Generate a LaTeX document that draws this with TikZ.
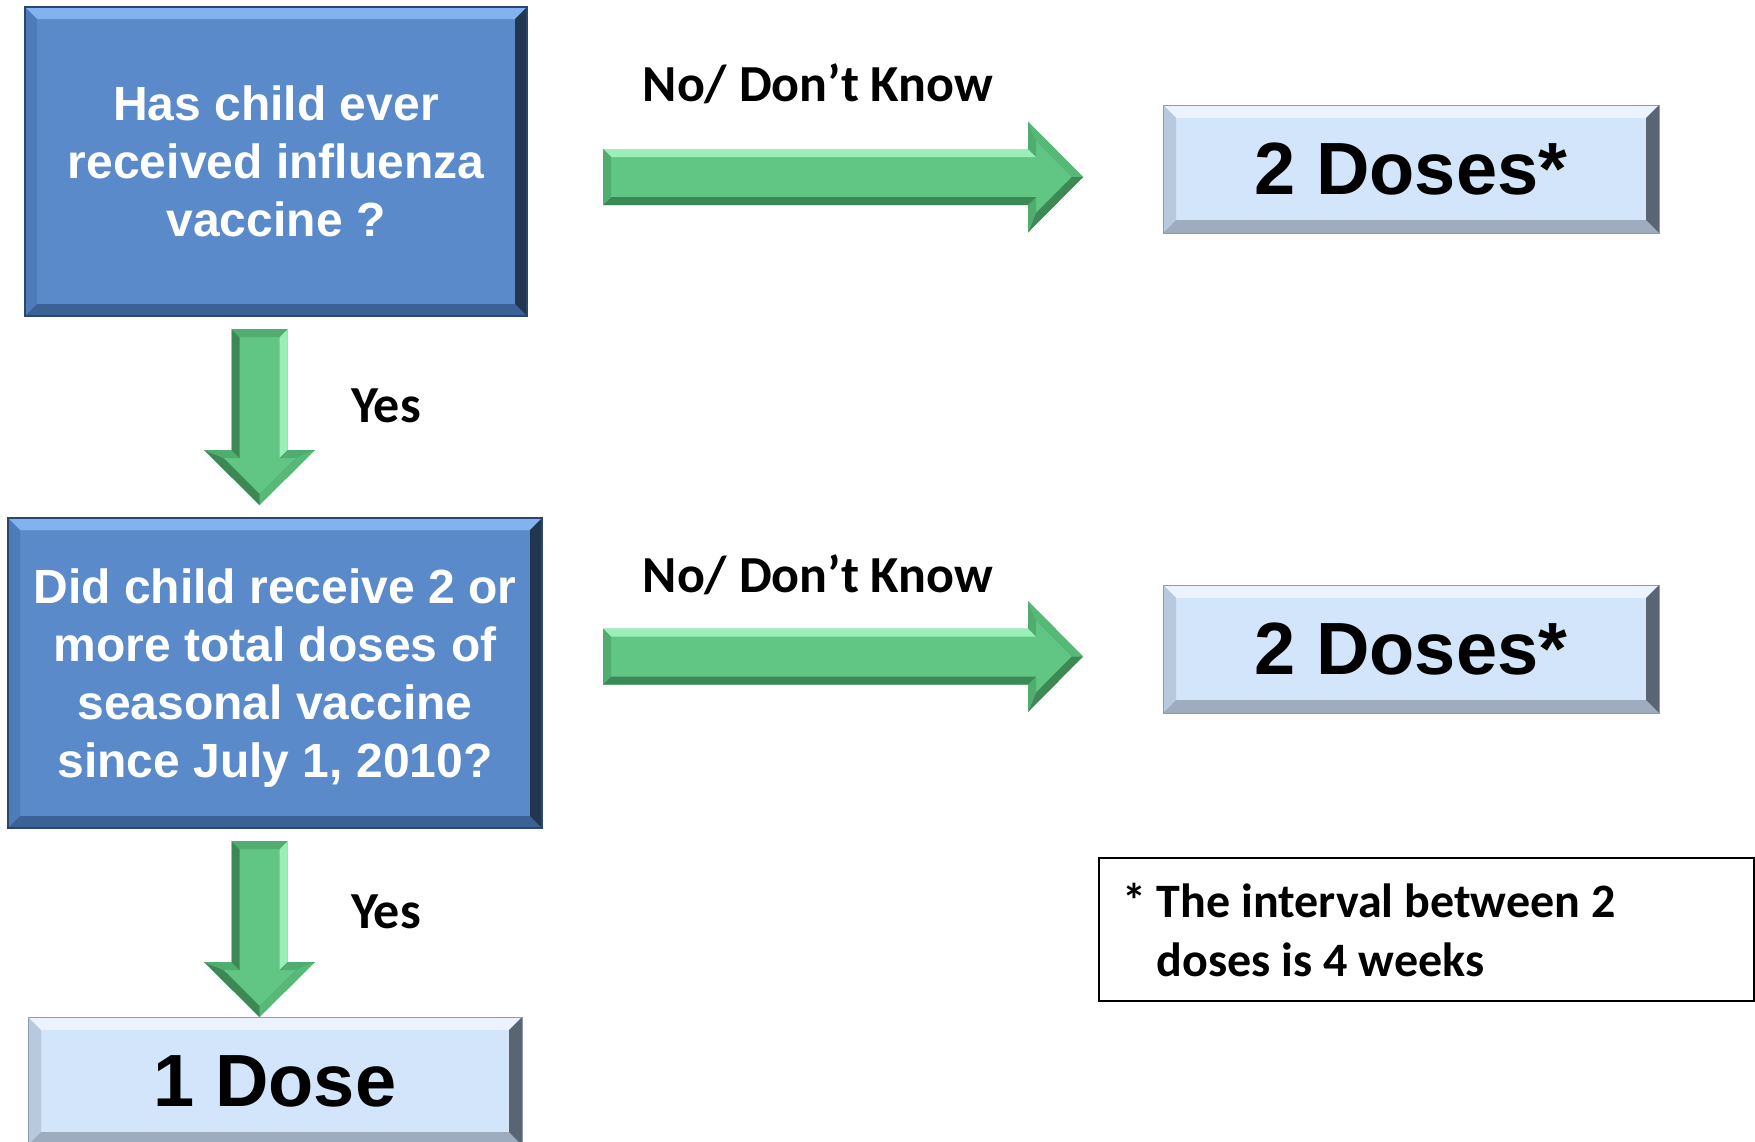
\documentclass[tikz,border=0pt]{standalone}
\usepackage{fontspec}
\usetikzlibrary{calc}
\newfontfamily\boxfont{Liberation Sans}
\newfontfamily\calfont{Carlito}
\definecolor{qblue}{HTML}{5A8AC9}
\definecolor{qtop}{HTML}{82B3F0}
\definecolor{qleft}{HTML}{4E7CBA}
\definecolor{qbot}{HTML}{3B6296}
\definecolor{qright}{HTML}{22364F}
\definecolor{qedge}{HTML}{2A4869}
\definecolor{dfill}{HTML}{D3E5FB}
\definecolor{dtop}{HTML}{EAF3FF}
\definecolor{dleft}{HTML}{B8C9DE}
\definecolor{dbot}{HTML}{9DACBF}
\definecolor{dright}{HTML}{5A6472}
\definecolor{dedge}{HTML}{8C9BB0}
\definecolor{gmain}{HTML}{61C683}
\definecolor{glight}{HTML}{9AEEB7}
\definecolor{gside}{HTML}{4FAE6F}
\definecolor{ghead}{HTML}{58B878}
\definecolor{gdark}{HTML}{3D8956}
\tikzset{
  bevel/.style n args={5}{path picture={
    \fill[#2] (path picture bounding box.north west) -- (path picture bounding box.north east)
      -- ([shift={(-#1,-#1)}]path picture bounding box.north east) -- ([shift={(#1,-#1)}]path picture bounding box.north west) -- cycle;
    \fill[#3] (path picture bounding box.north west) -- ([shift={(#1,-#1)}]path picture bounding box.north west)
      -- ([shift={(#1,#1)}]path picture bounding box.south west) -- (path picture bounding box.south west) -- cycle;
    \fill[#4] (path picture bounding box.south west) -- (path picture bounding box.south east)
      -- ([shift={(-#1,#1)}]path picture bounding box.south east) -- ([shift={(#1,#1)}]path picture bounding box.south west) -- cycle;
    \fill[#5] (path picture bounding box.north east) -- (path picture bounding box.south east)
      -- ([shift={(-#1,#1)}]path picture bounding box.south east) -- ([shift={(-#1,-#1)}]path picture bounding box.north east) -- cycle;
  }},
  question/.style={draw=qedge, line width=1.5pt, fill=qblue, text=white, align=center, inner sep=0pt,
    text depth=0pt, font=\boxfont\bfseries\fontsize{48}{58}\selectfont, bevel={12pt}{qtop}{qleft}{qbot}{qright}},
  answer/.style={draw=dedge, line width=1pt, fill=dfill, text=black, inner sep=0pt,
    minimum width=496pt, minimum height=128pt,
    font=\boxfont\bfseries\fontsize{74}{80}\selectfont, bevel={13pt}{dtop}{dleft}{dbot}{dright}},
  branch/.style={inner sep=0pt, font=\calfont\bfseries\fontsize{52}{60}\selectfont},
  pics/blockarrow/.style={code={
    \fill[gmain] (0,2.8) -- (#1-5.5,2.8) -- (#1-5.5,5.55) -- (#1,0) -- (#1-5.5,-5.55) -- (#1-5.5,-2.8) -- (0,-2.8) -- cycle;
    \fill[glight] (0,2.8) -- (#1-5.5,2.8) -- (#1-4.7,2.0) -- (0.8,2.0) -- cycle;
    \fill[gside] (#1-5.5,2.8) -- (#1-5.5,5.55) -- (#1-4.7,3.6) -- (#1-4.7,2.0) -- cycle;
    \fill[ghead] (#1-5.5,5.55) -- (#1,0) -- (#1-1.12,0) -- (#1-4.7,3.6) -- cycle;
    \fill[gdark] (#1,0) -- (#1-5.5,-5.55) -- (#1-4.7,-3.6) -- (#1-1.12,0) -- cycle;
    \fill[gside] (#1-5.5,-5.55) -- (#1-5.5,-2.8) -- (#1-4.7,-2.0) -- (#1-4.7,-3.6) -- cycle;
    \fill[gdark] (#1-5.5,-2.8) -- (0,-2.8) -- (0.8,-2.0) -- (#1-4.7,-2.0) -- cycle;
    \fill[gside] (0,-2.8) -- (0,2.8) -- (0.8,2.0) -- (0.8,-2.0) -- cycle;
  }}
}
\begin{document}
\begin{tikzpicture}[x=10pt,y=10pt]
\clip (0,0) rectangle (175.5,-114.1);
\node[question, minimum width=502pt, minimum height=309pt] (q1) at (27.6,-16.15)
  {Has child ever\\received influenza\\vaccine ?};
\node[question, minimum width=534pt, minimum height=310pt] (q2) at (27.5,-67.3)
  {Did child receive 2 or\\more total doses of\\seasonal vaccine\\since July 1, 2010?};
\node[answer] (d1) at (141.1,-16.9) {2 Doses*};
\node[answer] (d2) at (141.1,-64.9) {2 Doses*};
\node[answer, minimum width=494pt] (one) at (27.5,-108.1) {1 Dose};
\pic (h1) at (60.3,-17.7) {blockarrow=48};
\pic (h2) at (60.3,-65.65) {blockarrow=48};
\pic[rotate=-90] (v1) at (25.95,-32.9) {blockarrow=17.6};
\pic[rotate=-90] (v2) at (25.95,-84.1) {blockarrow=17.6};
\node[branch] (lab1) at (81.8,-8.4) {No/ Don’t Know};
\node[branch] (lab2) at (81.8,-57.5) {No/ Don’t Know};
\node[branch] (yes1) at (38.6,-40.6) {Yes};
\node[branch] (yes2) at (38.6,-91.2) {Yes};
\node[draw=black, line width=2pt, anchor=north west, minimum width=655pt, minimum height=143pt,
  inner xsep=23pt, text width=609pt, align=flush left, font=\calfont\bfseries\fontsize{48}{59}\selectfont]
  (note) at (109.8,-85.7) {* The interval between 2\\\phantom{* }doses is 4 weeks};
\end{tikzpicture}
\end{document}
